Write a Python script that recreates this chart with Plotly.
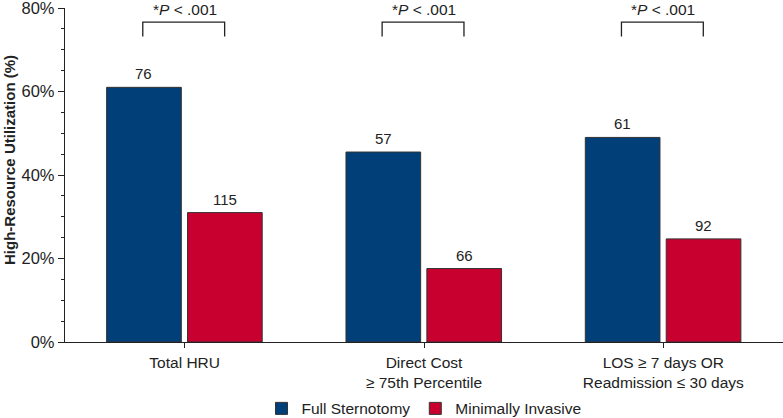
import plotly.graph_objects as go

categories = ["Total HRU", "Direct Cost<br>≥ 75th Percentile", "LOS ≥ 7 days OR<br>Readmission ≤ 30 days"]
full_pct = [61, 45.5, 49]
mini_pct = [31, 17.6, 24.7]
full_n = [76, 57, 61]
mini_n = [115, 66, 92]
p_text = ["*<i>P</i> < .001", "*<i>P</i> < .001", "*<i>P</i> < .001"]
y_ticks = [0, 20, 40, 60, 80]
y_tick_labels = ["0%", "20%", "40%", "60%", "80%"]
y_title = "<b>High-Resource Utilization (%)</b>"

BLUE = "#003f78"
RED = "#c8002f"
FONT = "Liberation Sans, Arial, sans-serif"

fig = go.Figure()
fig.add_trace(go.Bar(name="Full Sternotomy", x=list(range(3)), y=full_pct,
                     marker=dict(color=BLUE, line=dict(color="#333333", width=1)),
                     width=0.312, offset=-0.326))
fig.add_trace(go.Bar(name="Minimally Invasive", x=list(range(3)), y=mini_pct,
                     marker=dict(color=RED, line=dict(color="#333333", width=1)),
                     width=0.312, offset=0.012))

annotations = []
shapes = []
for i in range(3):
    annotations.append(dict(x=i - 0.17, y=full_pct[i], text=str(full_n[i]), showarrow=False,
                            yanchor="bottom", yshift=3, font=dict(size=15, color="#222")))
    annotations.append(dict(x=i + 0.168, y=mini_pct[i], text=str(mini_n[i]), showarrow=False,
                            yanchor="bottom", yshift=3, font=dict(size=15, color="#222")))
    annotations.append(dict(x=i, y=79.6, text=p_text[i], showarrow=False,
                            yanchor="middle", font=dict(size=15.5, color="#222")))
    shapes.append(dict(type="path", xref="x", yref="y",
                       path=f"M {i-0.175},73.2 L {i-0.175},76.6 L {i+0.167},76.6 L {i+0.167},73.2",
                       line=dict(color="#222", width=1.3)))

annotations.append(dict(xref="paper", yref="paper", x=-0.0766, y=0.545, text=y_title,
                        textangle=-90, showarrow=False, xanchor="center", yanchor="middle",
                        font=dict(size=15, color="#222")))

fig.update_layout(
    width=783, height=418,
    margin=dict(l=65, r=0, t=8, b=76, autoexpand=False),
    paper_bgcolor="white", plot_bgcolor="white",
    font=dict(family=FONT, size=15.5, color="#222"),
    showlegend=True,
    legend=dict(orientation="h", x=0.5, xanchor="center", y=-0.2, yanchor="middle",
                font=dict(size=15.5), traceorder="normal"),
    annotations=annotations, shapes=shapes,
)
fig.update_xaxes(range=[-0.5, 2.5], tickmode="array", tickvals=list(range(3)), ticktext=categories,
                 showline=True, linecolor="#222", linewidth=1.3, ticks="outside", ticklen=5,
                 tickcolor="#222", showgrid=False, zeroline=False, tickfont=dict(size=15.5),
                 ticklabelstandoff=1, automargin=False)
fig.update_yaxes(range=[0, 80], tickmode="array", tickvals=y_ticks, ticktext=y_tick_labels,
                 showline=True, linecolor="#222", linewidth=1.3, ticks="outside", ticklen=6,
                 tickcolor="#222", showgrid=False, zeroline=False, tickfont=dict(size=16.5),
                 ticklabeloverflow="allow",
                 minor=dict(dtick=5, ticks="outside", ticklen=3, tickcolor="#222", showgrid=False),
                 automargin=False)

fig.write_html("out.html", config={"displayModeBar": False},
               post_script="document.body.style.margin='0';document.body.style.padding='0';")
